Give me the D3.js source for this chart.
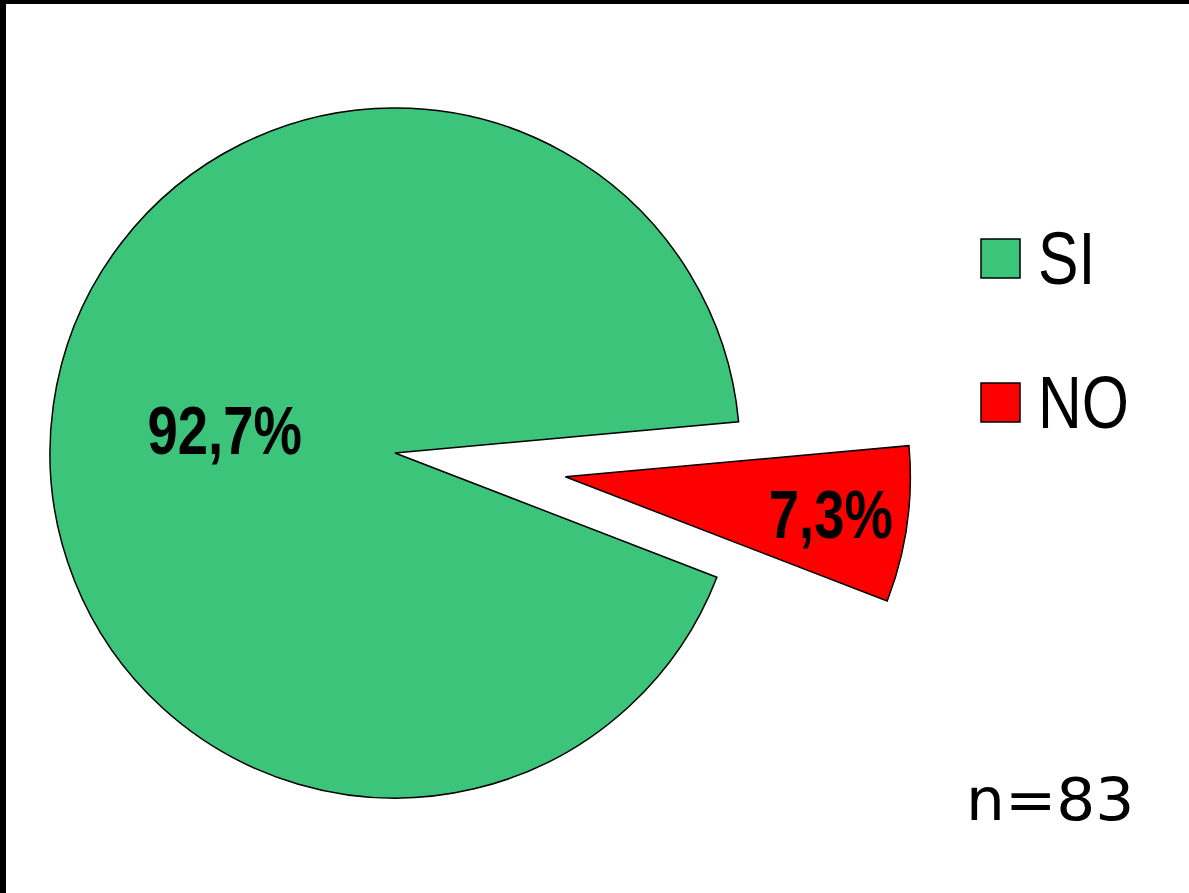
<!DOCTYPE html>
<html>
<head>
<meta charset="utf-8">
<script src="https://cdn.jsdelivr.net/npm/d3@7"></script>
<style>
  body { margin: 0; background: #fff; }
  svg { display: block; }
</style>
</head>
<body>
<svg id="chart"></svg>
<script>
// datos de la torta
const categories = ["SI", "NO"]
const values = [92.7, 7.3]
const labels = ["92,7%", "7,3%"]
const colors = ["#3cc47a", "#ff0000"]
const nText = "n=83"

const width = 1189, height = 893
const cx = 395, cy = 453, radius = 345

const svg = d3.select("#chart")
  .attr("width", width)
  .attr("height", height)

// borde negro arriba e izquierda
svg.append("rect").attr("x", 0).attr("y", 0).attr("width", width).attr("height", 4).attr("fill", "#000")
svg.append("rect").attr("x", 0).attr("y", 0).attr("width", 6).attr("height", height).attr("fill", "#000")

const data = categories.map((c, i) => ({ cat: c, value: values[i], label: labels[i], color: colors[i] }))

const start = 111.1 * Math.PI / 180
const pie = d3.pie()
  .value(d => d.value)
  .sort(null)
  .startAngle(start)
  .endAngle(start + 2 * Math.PI)

const arc = d3.arc().innerRadius(0).outerRadius(radius)

const explode = [0, 172] // cuanto se separa cada tajada
const labelR = [172, 268]

const g = svg.append("g").attr("transform", `translate(${cx},${cy})`)

const slices = g.selectAll("g.slice")
  .data(pie(data))
  .join("g")
  .attr("class", "slice")
  .attr("transform", (d, i) => {
    const a = (d.startAngle + d.endAngle) / 2
    return `translate(${Math.sin(a) * explode[i]},${-Math.cos(a) * explode[i]})`
  })

slices.append("path")
  .attr("d", arc)
  .attr("fill", d => d.data.color)
  .attr("stroke", "#000")
  .attr("stroke-width", 1.5)
  .attr("stroke-linejoin", "miter")

// no hay Arial Narrow, asi que se aplasta a mano
slices.append("text")
  .attr("transform", (d, i) => {
    const a = (d.startAngle + d.endAngle) / 2
    return `translate(${Math.sin(a) * labelR[i]},${-Math.cos(a) * labelR[i]}) scale(0.8,1)`
  })
  .attr("dy", "0.36em")
  .attr("text-anchor", "middle")
  .attr("font-family", "'Liberation Sans', Arial, sans-serif")
  .attr("font-weight", "bold")
  .attr("font-size", 68)
  .attr("fill", "#000")
  .text(d => d.data.label)

// leyenda
const legend = svg.append("g")
  .selectAll("g")
  .data(data)
  .join("g")
  .attr("transform", (d, i) => `translate(981,${239 + i * 144})`)

legend.append("rect")
  .attr("width", 39)
  .attr("height", 39)
  .attr("fill", d => d.color)
  .attr("stroke", "#000")
  .attr("stroke-width", 1.5)

legend.append("text")
  .attr("transform", "translate(57,45) scale(0.82,1)")
  .attr("font-family", "'Liberation Sans', Arial, sans-serif")
  .attr("font-size", 74)
  .attr("fill", "#000")
  .text(d => d.cat)

svg.append("text")
  .attr("transform", "translate(966,820) scale(1.04,1)")
  .attr("font-family", "'DejaVu Sans', Verdana, sans-serif")
  .attr("font-size", 59)
  .attr("fill", "#000")
  .text(nText)
</script>
</body>
</html>
